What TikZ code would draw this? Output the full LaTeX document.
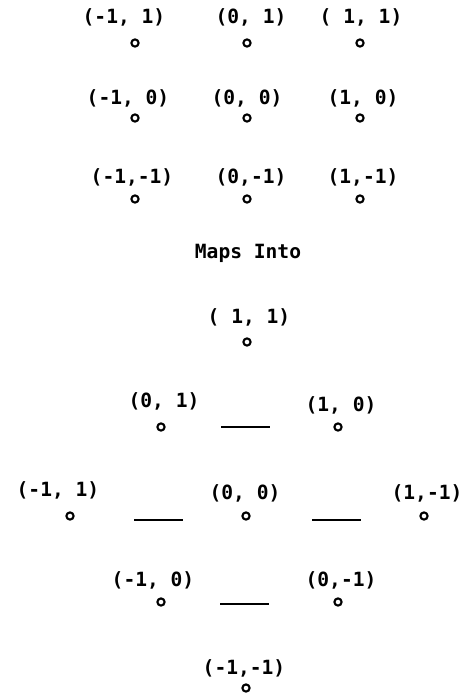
\documentclass[tikz,border=0pt]{standalone}
\usepackage{fontspec}
\setmonofont{DejaVu Sans Mono}
\begin{document}
\begin{tikzpicture}[x=1pt,y=-1pt,
  lbl/.style={inner sep=0pt,font=\ttfamily\bfseries\fontsize{19.6}{20}\selectfont},
  dot/.style={circle,draw,line width=2.1pt,minimum size=7.2pt,inner sep=0pt},
  bar/.style={line width=2.3pt}]
\useasboundingbox (0,0) rectangle (467,695);
% top grid
\node[lbl] (t11) at (124,17) {(-1,\ 1)};
\node[lbl] (t21) at (251,17) {(0,\ 1)};
\node[lbl] (t31) at (361,17) {(\ 1,\ 1)};
\node[lbl] (t12) at (128,98) {(-1,\ 0)};
\node[lbl] (t22) at (247,98) {(0,\ 0)};
\node[lbl] (t32) at (363,98) {(1,\ 0)};
\node[lbl] (t13) at (132,177) {(-1,-1)};
\node[lbl] (t23) at (251,177) {(0,-1)};
\node[lbl] (t33) at (363,177) {(1,-1)};
\node[dot] (d11) at (135,43) {};
\node[dot] (d21) at (247,43) {};
\node[dot] (d31) at (360,43) {};
\node[dot] (d12) at (135,118) {};
\node[dot] (d22) at (247,118) {};
\node[dot] (d32) at (360,118) {};
\node[dot] (d13) at (135,199) {};
\node[dot] (d23) at (247,199) {};
\node[dot] (d33) at (360,199) {};
% caption
\node[lbl] (maps) at (248,253) {Maps Into};
% bottom diamond
\node[lbl] (b11) at (249,317) {(\ 1,\ 1)};
\node[dot] (e11) at (247,342) {};
\node[lbl] (b01) at (164,401) {(0,\ 1)};
\node[dot] (e01) at (161,427) {};
\node[lbl] (b10) at (341,405) {(1,\ 0)};
\node[dot] (e10) at (338,427) {};
\node[lbl] (bm11) at (58,490) {(-1,\ 1)};
\node[dot] (em11) at (70,516) {};
\node[lbl] (b00) at (245,493) {(0,\ 0)};
\node[dot] (e00) at (246,516) {};
\node[lbl] (b1m1) at (427,493) {(1,-1)};
\node[dot] (e1m1) at (424,516) {};
\node[lbl] (bm10) at (153,580) {(-1,\ 0)};
\node[dot] (em10) at (161,602) {};
\node[lbl] (b0m1) at (341,580) {(0,-1)};
\node[dot] (e0m1) at (338,602) {};
\node[lbl] (bm1m1) at (244,668) {(-1,-1)};
\node[dot] (em1m1) at (246,688) {};
% bars
\draw[bar] (221,427) -- (270,427);
\draw[bar] (134,520) -- (183,520);
\draw[bar] (312,520) -- (361,520);
\draw[bar] (220,604) -- (269,604);
\end{tikzpicture}
\end{document}
